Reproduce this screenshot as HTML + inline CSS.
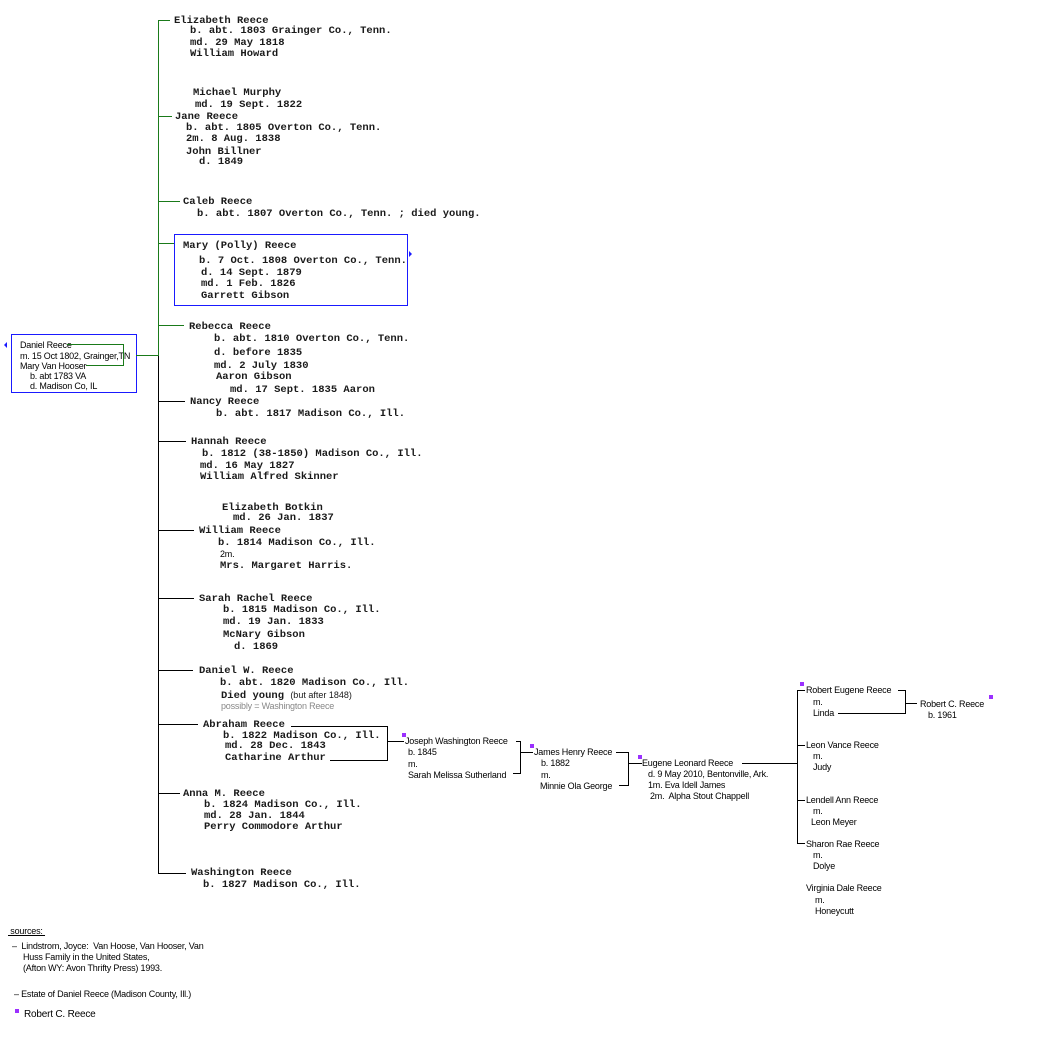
<!DOCTYPE html>
<html><head><meta charset="utf-8"><style>
body{margin:0;width:1056px;height:1050px;background:#fff;position:relative;overflow:hidden}
.m,.s{position:absolute;white-space:pre;line-height:12px}
.m{font-family:"Liberation Mono",monospace;font-size:10.5px;color:#1a1a1a;font-weight:bold;margin-top:1px}
.s{font-family:"Liberation Sans",sans-serif;font-size:9px;color:#000;letter-spacing:-0.2px}
.h{position:absolute;height:1px;background:#000}
.v{position:absolute;width:1px;background:#000}
.g{background:#1a7a1a}
.p{position:absolute;width:4px;height:4px;background:#9b30ff}
</style></head><body>
<div class="v g" style="left:158px;top:20px;height:336px"></div>
<div class="v" style="left:158px;top:356px;height:518px"></div>
<div class="h g" style="left:158px;top:20px;width:12px"></div>
<div class="h g" style="left:158px;top:116px;width:14px"></div>
<div class="h g" style="left:158px;top:201px;width:22px"></div>
<div class="h g" style="left:158px;top:243px;width:16px"></div>
<div class="h g" style="left:158px;top:325px;width:26px"></div>
<div class="h" style="left:158px;top:401px;width:27px"></div>
<div class="h" style="left:158px;top:441px;width:28px"></div>
<div class="h" style="left:158px;top:530px;width:36px"></div>
<div class="h" style="left:158px;top:598px;width:36px"></div>
<div class="h" style="left:158px;top:670px;width:35px"></div>
<div class="h" style="left:158px;top:724px;width:40px"></div>
<div class="h" style="left:158px;top:793px;width:22px"></div>
<div class="h" style="left:158px;top:873px;width:28px"></div>

<div class="m" style="left:174px;top:14px">Elizabeth Reece</div>
<div class="m" style="left:190px;top:24px">b. abt. 1803 Grainger Co., Tenn.</div>
<div class="m" style="left:190px;top:36px">md. 29 May 1818</div>
<div class="m" style="left:190px;top:47px">William Howard</div>
<div class="m" style="left:193px;top:86px">Michael Murphy</div>
<div class="m" style="left:195px;top:98px">md. 19 Sept. 1822</div>
<div class="m" style="left:175px;top:110px">Jane Reece</div>
<div class="m" style="left:186px;top:121px">b. abt. 1805 Overton Co., Tenn.</div>
<div class="m" style="left:186px;top:132px">2m. 8 Aug. 1838</div>
<div class="m" style="left:186px;top:145px">John Billner</div>
<div class="m" style="left:199px;top:155px">d. 1849</div>
<div class="m" style="left:183px;top:195px">Caleb Reece</div>
<div class="m" style="left:197px;top:207px">b. abt. 1807 Overton Co., Tenn. ; died young.</div>

<div style="position:absolute;left:174px;top:234px;width:232px;height:70px;border:1px solid #1a1aff"></div>
<div style="position:absolute;left:409px;top:251px;width:0;height:0;border-left:3px solid #1a1aff;border-top:3px solid transparent;border-bottom:3px solid transparent"></div>
<div class="m" style="left:183px;top:239px">Mary (Polly) Reece</div>
<div class="m" style="left:199px;top:254px">b. 7 Oct. 1808 Overton Co., Tenn.</div>
<div class="m" style="left:201px;top:266px">d. 14 Sept. 1879</div>
<div class="m" style="left:201px;top:277px">md. 1 Feb. 1826</div>
<div class="m" style="left:201px;top:289px">Garrett Gibson</div>

<div style="position:absolute;left:11px;top:334px;width:124px;height:57px;border:1px solid #1a1aff"></div>
<div style="position:absolute;left:4px;top:342px;width:0;height:0;border-right:3px solid #1a1aff;border-top:3px solid transparent;border-bottom:3px solid transparent"></div>
<div class="s" style="left:20px;top:339px">Daniel Reece</div>
<div class="s" style="left:20px;top:350px">m. 15 Oct 1802, Grainger,TN</div>
<div class="s" style="left:20px;top:360px">Mary Van Hooser</div>
<div class="s" style="left:30px;top:370px">b. abt 1783 VA</div>
<div class="s" style="left:30px;top:380px">d. Madison Co, IL</div>
<div class="h g" style="left:67px;top:344px;width:57px"></div>
<div class="v g" style="left:123px;top:344px;height:22px"></div>
<div class="h g" style="left:86px;top:365px;width:38px"></div>
<div class="h g" style="left:136px;top:355px;width:22px"></div>

<div class="m" style="left:189px;top:320px">Rebecca Reece</div>
<div class="m" style="left:214px;top:332px">b. abt. 1810 Overton Co., Tenn.</div>
<div class="m" style="left:214px;top:346px">d. before 1835</div>
<div class="m" style="left:214px;top:359px">md. 2 July 1830</div>
<div class="m" style="left:216px;top:370px">Aaron Gibson</div>
<div class="m" style="left:230px;top:383px">md. 17 Sept. 1835 Aaron</div>
<div class="m" style="left:190px;top:395px">Nancy Reece</div>
<div class="m" style="left:216px;top:407px">b. abt. 1817 Madison Co., Ill.</div>
<div class="m" style="left:191px;top:435px">Hannah Reece</div>
<div class="m" style="left:202px;top:447px">b. 1812 (38-1850) Madison Co., Ill.</div>
<div class="m" style="left:200px;top:459px">md. 16 May 1827</div>
<div class="m" style="left:200px;top:470px">William Alfred Skinner</div>
<div class="m" style="left:222px;top:501px">Elizabeth Botkin</div>
<div class="m" style="left:233px;top:511px">md. 26 Jan. 1837</div>
<div class="m" style="left:199px;top:524px">William Reece</div>
<div class="m" style="left:218px;top:536px">b. 1814 Madison Co., Ill.</div>
<div class="s" style="left:220px;top:548px">2m.</div>
<div class="m" style="left:220px;top:559px">Mrs. Margaret Harris.</div>
<div class="m" style="left:199px;top:592px">Sarah Rachel Reece</div>
<div class="m" style="left:223px;top:603px">b. 1815 Madison Co., Ill.</div>
<div class="m" style="left:223px;top:615px">md. 19 Jan. 1833</div>
<div class="m" style="left:223px;top:628px">McNary Gibson</div>
<div class="m" style="left:234px;top:640px">d. 1869</div>
<div class="m" style="left:199px;top:664px">Daniel W. Reece</div>
<div class="m" style="left:220px;top:676px">b. abt. 1820 Madison Co., Ill.</div>
<div class="m" style="left:221px;top:688px">Died young <span style="font-family:'Liberation Sans',sans-serif;font-size:9px;font-weight:normal">(but after 1848)</span></div>
<div class="s" style="left:221px;top:700px;color:#888">possibly = Washington Reece</div>
<div class="m" style="left:203px;top:718px">Abraham Reece</div>
<div class="m" style="left:223px;top:729px">b. 1822 Madison Co., Ill.</div>
<div class="m" style="left:225px;top:739px">md. 28 Dec. 1843</div>
<div class="m" style="left:225px;top:751px">Catharine Arthur</div>
<div class="m" style="left:183px;top:787px">Anna M. Reece</div>
<div class="m" style="left:204px;top:798px">b. 1824 Madison Co., Ill.</div>
<div class="m" style="left:204px;top:809px">md. 28 Jan. 1844</div>
<div class="m" style="left:204px;top:820px">Perry Commodore Arthur</div>
<div class="m" style="left:191px;top:866px">Washington Reece</div>
<div class="m" style="left:203px;top:878px">b. 1827 Madison Co., Ill.</div>

<div class="h" style="left:291px;top:726px;width:96px"></div>
<div class="v" style="left:387px;top:726px;height:35px"></div>
<div class="h" style="left:330px;top:760px;width:58px"></div>
<div class="h" style="left:387px;top:741px;width:17px"></div>
<div class="p" style="left:402px;top:733px"></div>
<div class="s" style="left:405px;top:735px">Joseph Washington Reece</div>
<div class="s" style="left:408px;top:746px">b. 1845</div>
<div class="s" style="left:408px;top:758px">m.</div>
<div class="s" style="left:408px;top:769px">Sarah Melissa Sutherland</div>
<div class="h" style="left:516px;top:741px;width:5px"></div>
<div class="v" style="left:520px;top:741px;height:33px"></div>
<div class="h" style="left:513px;top:773px;width:8px"></div>
<div class="h" style="left:520px;top:752px;width:13px"></div>
<div class="p" style="left:530px;top:744px"></div>
<div class="s" style="left:534px;top:746px">James Henry Reece</div>
<div class="s" style="left:541px;top:757px">b. 1882</div>
<div class="s" style="left:541px;top:769px">m.</div>
<div class="s" style="left:540px;top:780px">Minnie Ola George</div>
<div class="h" style="left:616px;top:752px;width:13px"></div>
<div class="v" style="left:628px;top:752px;height:34px"></div>
<div class="h" style="left:619px;top:785px;width:10px"></div>
<div class="h" style="left:628px;top:763px;width:14px"></div>
<div class="p" style="left:638px;top:755px"></div>
<div class="s" style="left:642px;top:757px">Eugene Leonard Reece</div>
<div class="s" style="left:648px;top:768px">d. 9 May 2010, Bentonville, Ark.</div>
<div class="s" style="left:648px;top:779px">1m. Eva Idell James</div>
<div class="s" style="left:650px;top:790px">2m.  Alpha Stout Chappell</div>
<div class="h" style="left:742px;top:763px;width:55px"></div>
<div class="v" style="left:797px;top:690px;height:154px"></div>
<div class="h" style="left:797px;top:690px;width:8px"></div>
<div class="h" style="left:797px;top:745px;width:8px"></div>
<div class="h" style="left:797px;top:800px;width:8px"></div>
<div class="h" style="left:797px;top:843px;width:8px"></div>
<div class="p" style="left:800px;top:682px"></div>
<div class="s" style="left:806px;top:684px">Robert Eugene Reece</div>
<div class="s" style="left:813px;top:696px">m.</div>
<div class="s" style="left:813px;top:707px">Linda</div>
<div class="h" style="left:898px;top:690px;width:8px"></div>
<div class="v" style="left:905px;top:690px;height:24px"></div>
<div class="h" style="left:838px;top:713px;width:68px"></div>
<div class="h" style="left:905px;top:703px;width:12px"></div>
<div class="s" style="left:920px;top:698px">Robert C. Reece</div>
<div class="p" style="left:989px;top:695px"></div>
<div class="s" style="left:928px;top:709px">b. 1961</div>
<div class="s" style="left:806px;top:739px">Leon Vance Reece</div>
<div class="s" style="left:813px;top:750px">m.</div>
<div class="s" style="left:813px;top:761px">Judy</div>
<div class="s" style="left:806px;top:794px">Lendell Ann Reece</div>
<div class="s" style="left:813px;top:805px">m.</div>
<div class="s" style="left:811px;top:816px">Leon Meyer</div>
<div class="s" style="left:806px;top:838px">Sharon Rae Reece</div>
<div class="s" style="left:813px;top:849px">m.</div>
<div class="s" style="left:813px;top:860px">Dolye</div>
<div class="s" style="left:806px;top:882px">Virginia Dale Reece</div>
<div class="s" style="left:815px;top:894px">m.</div>
<div class="s" style="left:815px;top:905px">Honeycutt</div>

<div class="s" style="left:8px;top:925px;text-decoration:underline"> sources: </div>
<div class="s" style="left:12px;top:940px">–  Lindstrom, Joyce:  Van Hoose, Van Hooser, Van</div>
<div class="s" style="left:23px;top:951px">Huss Family in the United States,</div>
<div class="s" style="left:23px;top:962px">(Afton WY: Avon Thrifty Press) 1993.</div>
<div class="s" style="left:14px;top:988px">– Estate of Daniel Reece (Madison County, Ill.)</div>
<div class="p" style="left:15px;top:1009px"></div>
<div class="s" style="left:24px;top:1009px;font-size:10px">Robert C. Reece</div>
</body></html>
